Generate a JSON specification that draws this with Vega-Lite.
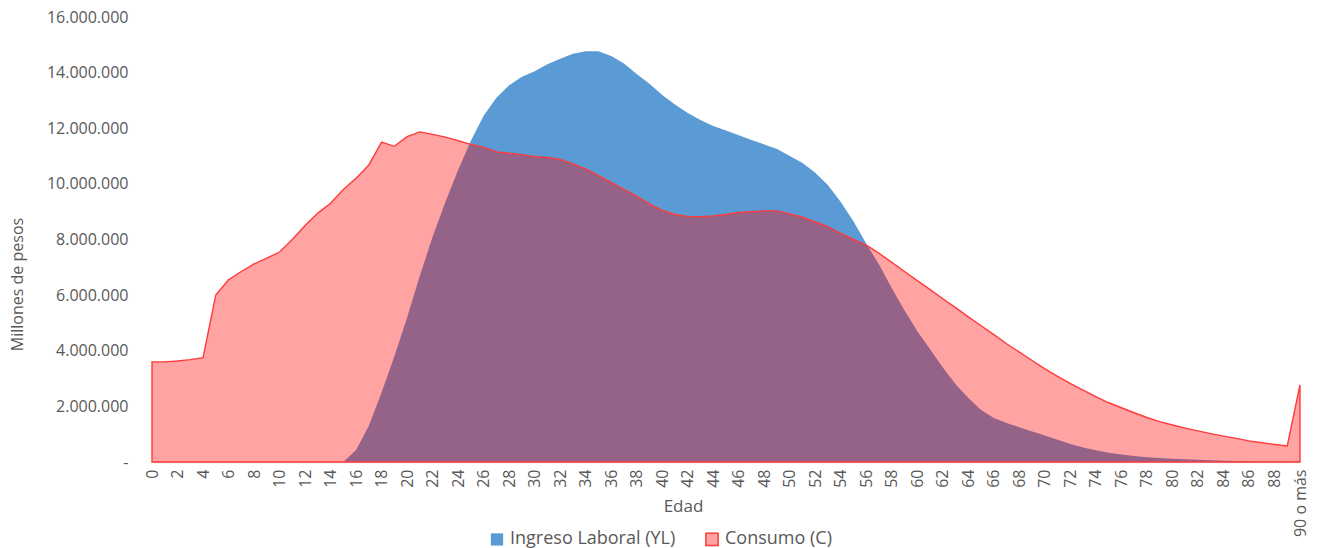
{
  "$schema": "https://vega.github.io/schema/vega-lite/v6.json",
  "width": 1148,
  "height": 445,
  "autosize": {"type": "none"},
  "padding": {"left": 152, "top": 17, "right": 20, "bottom": 86},
  "background": "white",
  "config": {
    "locale": {"number": {"decimal": ",", "thousands": ".", "grouping": [3], "currency": ["$", ""]}},
    "font": "Open Sans",
    "view": {"stroke": null},
    "axis": {"labelColor": "#595959", "titleColor": "#595959", "labelFont": "Open Sans", "titleFont": "Open Sans", "titleFontWeight": "normal", "grid": false, "ticks": false}
  },
  "data": {
    "values": [
      {"edad": 0, "Ingreso Laboral (YL)": 0, "Consumo (C)": 3600000},
      {"edad": 1, "Ingreso Laboral (YL)": 0, "Consumo (C)": 3600000},
      {"edad": 2, "Ingreso Laboral (YL)": 0, "Consumo (C)": 3630000},
      {"edad": 3, "Ingreso Laboral (YL)": 0, "Consumo (C)": 3680000},
      {"edad": 4, "Ingreso Laboral (YL)": 0, "Consumo (C)": 3750000},
      {"edad": 5, "Ingreso Laboral (YL)": 0, "Consumo (C)": 6000000},
      {"edad": 6, "Ingreso Laboral (YL)": 0, "Consumo (C)": 6550000},
      {"edad": 7, "Ingreso Laboral (YL)": 0, "Consumo (C)": 6850000},
      {"edad": 8, "Ingreso Laboral (YL)": 0, "Consumo (C)": 7120000},
      {"edad": 9, "Ingreso Laboral (YL)": 0, "Consumo (C)": 7330000},
      {"edad": 10, "Ingreso Laboral (YL)": 0, "Consumo (C)": 7550000},
      {"edad": 11, "Ingreso Laboral (YL)": 0, "Consumo (C)": 8000000},
      {"edad": 12, "Ingreso Laboral (YL)": 0, "Consumo (C)": 8500000},
      {"edad": 13, "Ingreso Laboral (YL)": 0, "Consumo (C)": 8950000},
      {"edad": 14, "Ingreso Laboral (YL)": 0, "Consumo (C)": 9300000},
      {"edad": 15, "Ingreso Laboral (YL)": 0, "Consumo (C)": 9800000},
      {"edad": 16, "Ingreso Laboral (YL)": 430000, "Consumo (C)": 10200000},
      {"edad": 17, "Ingreso Laboral (YL)": 1300000, "Consumo (C)": 10680000},
      {"edad": 18, "Ingreso Laboral (YL)": 2500000, "Consumo (C)": 11500000},
      {"edad": 19, "Ingreso Laboral (YL)": 3800000, "Consumo (C)": 11350000},
      {"edad": 20, "Ingreso Laboral (YL)": 5200000, "Consumo (C)": 11700000},
      {"edad": 21, "Ingreso Laboral (YL)": 6700000, "Consumo (C)": 11870000},
      {"edad": 22, "Ingreso Laboral (YL)": 8100000, "Consumo (C)": 11780000},
      {"edad": 23, "Ingreso Laboral (YL)": 9350000, "Consumo (C)": 11680000},
      {"edad": 24, "Ingreso Laboral (YL)": 10500000, "Consumo (C)": 11550000},
      {"edad": 25, "Ingreso Laboral (YL)": 11550000, "Consumo (C)": 11420000},
      {"edad": 26, "Ingreso Laboral (YL)": 12450000, "Consumo (C)": 11320000},
      {"edad": 27, "Ingreso Laboral (YL)": 13100000, "Consumo (C)": 11150000},
      {"edad": 28, "Ingreso Laboral (YL)": 13550000, "Consumo (C)": 11100000},
      {"edad": 29, "Ingreso Laboral (YL)": 13850000, "Consumo (C)": 11050000},
      {"edad": 30, "Ingreso Laboral (YL)": 14050000, "Consumo (C)": 10980000},
      {"edad": 31, "Ingreso Laboral (YL)": 14300000, "Consumo (C)": 10950000},
      {"edad": 32, "Ingreso Laboral (YL)": 14500000, "Consumo (C)": 10880000},
      {"edad": 33, "Ingreso Laboral (YL)": 14680000, "Consumo (C)": 10720000},
      {"edad": 34, "Ingreso Laboral (YL)": 14770000, "Consumo (C)": 10540000},
      {"edad": 35, "Ingreso Laboral (YL)": 14770000, "Consumo (C)": 10300000},
      {"edad": 36, "Ingreso Laboral (YL)": 14600000, "Consumo (C)": 10050000},
      {"edad": 37, "Ingreso Laboral (YL)": 14330000, "Consumo (C)": 9800000},
      {"edad": 38, "Ingreso Laboral (YL)": 13950000, "Consumo (C)": 9550000},
      {"edad": 39, "Ingreso Laboral (YL)": 13600000, "Consumo (C)": 9280000},
      {"edad": 40, "Ingreso Laboral (YL)": 13200000, "Consumo (C)": 9050000},
      {"edad": 41, "Ingreso Laboral (YL)": 12850000, "Consumo (C)": 8900000},
      {"edad": 42, "Ingreso Laboral (YL)": 12550000, "Consumo (C)": 8830000},
      {"edad": 43, "Ingreso Laboral (YL)": 12300000, "Consumo (C)": 8820000},
      {"edad": 44, "Ingreso Laboral (YL)": 12080000, "Consumo (C)": 8850000},
      {"edad": 45, "Ingreso Laboral (YL)": 11920000, "Consumo (C)": 8900000},
      {"edad": 46, "Ingreso Laboral (YL)": 11750000, "Consumo (C)": 8970000},
      {"edad": 47, "Ingreso Laboral (YL)": 11580000, "Consumo (C)": 9000000},
      {"edad": 48, "Ingreso Laboral (YL)": 11420000, "Consumo (C)": 9030000},
      {"edad": 49, "Ingreso Laboral (YL)": 11250000, "Consumo (C)": 9030000},
      {"edad": 50, "Ingreso Laboral (YL)": 11000000, "Consumo (C)": 8920000},
      {"edad": 51, "Ingreso Laboral (YL)": 10750000, "Consumo (C)": 8800000},
      {"edad": 52, "Ingreso Laboral (YL)": 10400000, "Consumo (C)": 8630000},
      {"edad": 53, "Ingreso Laboral (YL)": 9950000, "Consumo (C)": 8450000},
      {"edad": 54, "Ingreso Laboral (YL)": 9350000, "Consumo (C)": 8220000},
      {"edad": 55, "Ingreso Laboral (YL)": 8650000, "Consumo (C)": 8000000},
      {"edad": 56, "Ingreso Laboral (YL)": 7850000, "Consumo (C)": 7800000},
      {"edad": 57, "Ingreso Laboral (YL)": 7100000, "Consumo (C)": 7500000},
      {"edad": 58, "Ingreso Laboral (YL)": 6250000, "Consumo (C)": 7180000},
      {"edad": 59, "Ingreso Laboral (YL)": 5450000, "Consumo (C)": 6850000},
      {"edad": 60, "Ingreso Laboral (YL)": 4700000, "Consumo (C)": 6520000},
      {"edad": 61, "Ingreso Laboral (YL)": 4050000, "Consumo (C)": 6200000},
      {"edad": 62, "Ingreso Laboral (YL)": 3400000, "Consumo (C)": 5870000},
      {"edad": 63, "Ingreso Laboral (YL)": 2800000, "Consumo (C)": 5550000},
      {"edad": 64, "Ingreso Laboral (YL)": 2300000, "Consumo (C)": 5220000},
      {"edad": 65, "Ingreso Laboral (YL)": 1870000, "Consumo (C)": 4900000},
      {"edad": 66, "Ingreso Laboral (YL)": 1580000, "Consumo (C)": 4580000},
      {"edad": 67, "Ingreso Laboral (YL)": 1400000, "Consumo (C)": 4250000},
      {"edad": 68, "Ingreso Laboral (YL)": 1250000, "Consumo (C)": 3950000},
      {"edad": 69, "Ingreso Laboral (YL)": 1100000, "Consumo (C)": 3650000},
      {"edad": 70, "Ingreso Laboral (YL)": 950000, "Consumo (C)": 3350000},
      {"edad": 71, "Ingreso Laboral (YL)": 800000, "Consumo (C)": 3080000},
      {"edad": 72, "Ingreso Laboral (YL)": 650000, "Consumo (C)": 2820000},
      {"edad": 73, "Ingreso Laboral (YL)": 520000, "Consumo (C)": 2580000},
      {"edad": 74, "Ingreso Laboral (YL)": 420000, "Consumo (C)": 2350000},
      {"edad": 75, "Ingreso Laboral (YL)": 330000, "Consumo (C)": 2130000},
      {"edad": 76, "Ingreso Laboral (YL)": 270000, "Consumo (C)": 1950000},
      {"edad": 77, "Ingreso Laboral (YL)": 220000, "Consumo (C)": 1770000},
      {"edad": 78, "Ingreso Laboral (YL)": 170000, "Consumo (C)": 1600000},
      {"edad": 79, "Ingreso Laboral (YL)": 140000, "Consumo (C)": 1450000},
      {"edad": 80, "Ingreso Laboral (YL)": 120000, "Consumo (C)": 1330000},
      {"edad": 81, "Ingreso Laboral (YL)": 100000, "Consumo (C)": 1220000},
      {"edad": 82, "Ingreso Laboral (YL)": 80000, "Consumo (C)": 1120000},
      {"edad": 83, "Ingreso Laboral (YL)": 60000, "Consumo (C)": 1020000},
      {"edad": 84, "Ingreso Laboral (YL)": 45000, "Consumo (C)": 930000},
      {"edad": 85, "Ingreso Laboral (YL)": 35000, "Consumo (C)": 850000},
      {"edad": 86, "Ingreso Laboral (YL)": 25000, "Consumo (C)": 760000},
      {"edad": 87, "Ingreso Laboral (YL)": 20000, "Consumo (C)": 690000},
      {"edad": 88, "Ingreso Laboral (YL)": 15000, "Consumo (C)": 630000},
      {"edad": 89, "Ingreso Laboral (YL)": 10000, "Consumo (C)": 580000},
      {"edad": 90, "Ingreso Laboral (YL)": 10000, "Consumo (C)": 2770000}
    ]
  },
  "transform": [
    {"fold": ["Ingreso Laboral (YL)", "Consumo (C)"], "as": ["serie", "valor"]}
  ],
  "encoding": {
    "x": {
      "field": "edad", "type": "quantitative",
      "scale": {"domain": [0, 90], "nice": false, "zero": false},
      "axis": {
        "title": "Edad", "titleFontSize": 17, "titleX": 531, "titleY": 36, "titleAnchor": null, "titleAlign": "center", "titleBaseline": "top",
        "values": [0,2,4,6,8,10,12,14,16,18,20,22,24,26,28,30,32,34,36,38,40,42,44,46,48,50,52,54,56,58,60,62,64,66,68,70,72,74,76,78,80,82,84,86,88,90],
        "labelExpr": "datum.value == 90 ? '90 o más' : datum.value",
        "labelAngle": -90, "labelAlign": "right", "labelBaseline": "middle",
        "labelFontSize": 16, "labelPadding": 7, "labelOverlap": false, "labelFlush": false, "labelBound": false,
        "domain": true, "domainColor": "#D9D9D9", "domainWidth": 1.3
      }
    },
    "y": {
      "field": "valor", "type": "quantitative", "stack": null,
      "scale": {"domain": [0, 16000000], "nice": false},
      "axis": {
        "title": "Millones de pesos", "titleFontSize": 16, "titleX": -127, "titleY": 267, "titleAngle": -90, "titleAlign": "center", "titleBaseline": "bottom",
        "values": [0, 2000000, 4000000, 6000000, 8000000, 10000000, 12000000, 14000000, 16000000],
        "format": ",d",
        "labelExpr": "datum.value == 0 ? '-' : datum.label",
        "labelFontSize": 16, "labelPadding": 24, "domain": false
      }
    },
    "fill": {
      "field": "serie", "type": "nominal",
      "scale": {"domain": ["Ingreso Laboral (YL)", "Consumo (C)"], "range": ["#5B9BD5", "#FF0000"]},
      "legend": {
        "title": null, "orient": "none", "direction": "horizontal", "legendX": 336, "legendY": 513,
        "symbolType": "square", "symbolSize": 150, "labelFontSize": 18, "labelColor": "#595959", "labelFont": "Open Sans",
        "labelLimit": 400, "labelOffset": 4, "columnPadding": 26, "padding": 0,
        "encode": {
          "symbols": {
            "update": {
              "fillOpacity": {"signal": "datum.value === 'Consumo (C)' ? 0.36 : 1"},
              "stroke": {"signal": "datum.value === 'Consumo (C)' ? '#FF3B3B' : 'transparent'"},
              "strokeWidth": {"value": 1.5}
            }
          }
        }
      }
    }
  },
  "layer": [
    {
      "transform": [{"filter": "datum.serie === 'Ingreso Laboral (YL)'"}],
      "mark": {"type": "area", "fillOpacity": 1, "interpolate": "linear"}
    },
    {
      "transform": [{"filter": "datum.serie === 'Consumo (C)'"}],
      "mark": {"type": "area", "fillOpacity": 0.36, "stroke": "#FF3B3B", "strokeWidth": 1.4, "interpolate": "linear"}
    }
  ]
}
